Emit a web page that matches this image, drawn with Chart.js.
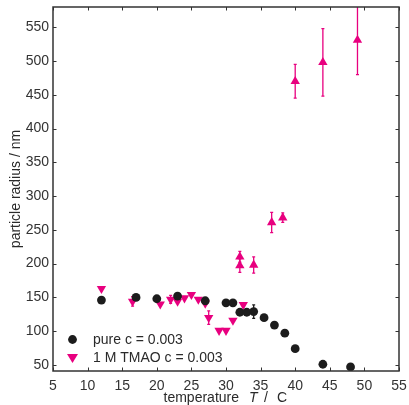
<!DOCTYPE html>
<html>
<head>
<meta charset="utf-8">
<script src="https://cdn.jsdelivr.net/npm/chart.js@4"></script>
<style>
  html, body { margin: 0; padding: 0; background: #fff; }
</style>
</head>
<body>
<canvas id="chart" width="409" height="405"></canvas>
<script>
// pure, c = 0.003
const pureT = [12, 17, 20, 23, 27, 30, 31, 32, 33, 34, 35.5, 37, 38.5, 40, 44, 48];
const pureR = [146, 150, 148, 152, 145, 142, 142, 128, 128, 129, 120, 109, 97, 74, 51, 47];
const pureErr = [0, 0, 0, 0, 0, 0, 0, 0, 0, 10, 0, 0, 0, 0, 0, 0];

// 1 M TMAO, below the transition (downward triangles)
const tmaoLowT = [12, 16.5, 20.5, 22, 23, 24, 25, 26, 27, 27.5, 29, 30, 31, 32.5];
const tmaoLowR = [163, 144, 140, 147, 144, 149, 154, 147, 141, 120, 101, 101, 116, 139];
const tmaoLowErr = [0, 7, 0, 6, 0, 0, 3, 0, 0, 10, 0, 0, 0, 0];

// 1 M TMAO, above the transition (upward triangles)
const tmaoHighT = [32, 32, 34, 36.6, 38.2, 40, 44, 49];
const tmaoHighR = [210, 197, 198, 261, 268, 470, 498, 531];
const tmaoHighErr = [8, 10, 12, 15, 7, 25, 50, 51];

const xTicks = [5, 10, 15, 20, 25, 30, 35, 40, 45, 50, 55];
const yTicks = [50, 100, 150, 200, 250, 300, 350, 400, 450, 500, 550];

const PINK = '#e8007f';
const BLACK = '#1c1c1c';
const AXIS = '#333333';
const FONT = '"Liberation Sans", Arial, sans-serif';

function toXY(xs, ys) {
  return xs.map((x, i) => ({x: x, y: ys[i]}));
}

// vertical error bars, drawn under the markers
const errorBars = {
  id: 'errorBars',
  beforeDatasetsDraw(chart) {
    const ctx = chart.ctx;
    const xs = chart.scales.x, ys = chart.scales.y;
    const area = chart.chartArea;
    ctx.save();
    ctx.beginPath();
    ctx.rect(area.left, area.top, area.right - area.left, area.bottom - area.top);
    ctx.clip();
    chart.data.datasets.forEach(ds => {
      if (!ds.errors) return;
      ctx.strokeStyle = ds.borderColor;
      ctx.lineWidth = 1.3;
      ds.data.forEach((p, i) => {
        const e = ds.errors[i];
        if (!e) return;
        const px = xs.getPixelForValue(p.x);
        const y1 = ys.getPixelForValue(p.y - e);
        const y2 = ys.getPixelForValue(p.y + e);
        ctx.beginPath();
        ctx.moveTo(px, y1); ctx.lineTo(px, y2);
        ctx.moveTo(px - 1.5, y1); ctx.lineTo(px + 1.5, y1);
        ctx.moveTo(px - 1.5, y2); ctx.lineTo(px + 1.5, y2);
        ctx.stroke();
      });
    });
    ctx.restore();
  }
};

// box, inward ticks, legend and axis titles
const frame = {
  id: 'frame',
  afterDraw(chart) {
    const ctx = chart.ctx;
    const a = chart.chartArea;
    const xs = chart.scales.x, ys = chart.scales.y;
    const tl = 3.5;
    ctx.save();
    ctx.strokeStyle = AXIS;
    ctx.lineWidth = 1;
    ctx.beginPath();
    xTicks.forEach(v => {
      const px = Math.round(xs.getPixelForValue(v)) + 0.5;
      ctx.moveTo(px, a.bottom); ctx.lineTo(px, a.bottom - tl);
      ctx.moveTo(px, a.top); ctx.lineTo(px, a.top + tl);
    });
    yTicks.forEach(v => {
      const py = Math.round(ys.getPixelForValue(v)) + 0.5;
      ctx.moveTo(a.left, py); ctx.lineTo(a.left + tl, py);
      ctx.moveTo(a.right, py); ctx.lineTo(a.right - tl, py);
    });
    ctx.stroke();
    ctx.lineWidth = 1.5;
    ctx.strokeRect(a.left, a.top, a.right - a.left, a.bottom - a.top);

    // legend
    ctx.font = '14px ' + FONT;
    ctx.fillStyle = BLACK;
    ctx.textBaseline = 'middle';
    ctx.textAlign = 'left';
    ctx.beginPath();
    ctx.arc(72.5, 339.5, 4.4, 0, Math.PI * 2);
    ctx.fill();
    ctx.fillStyle = '#2a2a2a';
    ctx.fillText('pure c = 0.003', 93, 340);
    ctx.fillStyle = PINK;
    ctx.beginPath();
    ctx.moveTo(67, 354); ctx.lineTo(78, 354); ctx.lineTo(72.5, 363);
    ctx.closePath();
    ctx.fill();
    ctx.fillStyle = '#2a2a2a';
    ctx.fillText('1 M TMAO c = 0.003', 93, 358);

    // x title
    ctx.textBaseline = 'alphabetic';
    const ty = 402;
    const w = ctx.measureText('temperature').width;
    ctx.fillText('temperature', 239 - w, ty);
    ctx.font = 'italic 14px ' + FONT;
    ctx.fillText('T', 249, ty);
    ctx.font = '14px ' + FONT;
    ctx.fillText('/', 264, ty);
    ctx.fillText('C', 277, ty);

    // y title
    ctx.translate(16, (a.top + a.bottom) / 2);
    ctx.rotate(-Math.PI / 2);
    ctx.textAlign = 'center';
    ctx.textBaseline = 'middle';
    ctx.fillText('particle radius / nm', 0, 0);
    ctx.restore();
  }
};

new Chart(document.getElementById('chart'), {
  type: 'scatter',
  data: {
    datasets: [
      {
        label: 'pure c = 0.003',
        data: toXY(pureT, pureR),
        errors: pureErr,
        pointStyle: 'circle',
        pointRadius: 4.4,
        backgroundColor: BLACK,
        borderColor: BLACK,
        borderWidth: 0
      },
      {
        label: '1 M TMAO c = 0.003',
        data: toXY(tmaoLowT, tmaoLowR),
        errors: tmaoLowErr,
        pointStyle: 'triangle',
        rotation: 180,
        pointRadius: 5.4,
        backgroundColor: PINK,
        borderColor: PINK,
        borderWidth: 0
      },
      {
        label: '1 M TMAO c = 0.003 (high T)',
        data: toXY(tmaoHighT, tmaoHighR),
        errors: tmaoHighErr,
        pointStyle: 'triangle',
        pointRadius: 5.4,
        backgroundColor: PINK,
        borderColor: PINK,
        borderWidth: 0
      }
    ]
  },
  options: {
    responsive: false,
    animation: false,
    devicePixelRatio: 1,
    layout: { padding: { top: 7, right: 10, left: 0, bottom: 0 } },
    plugins: {
      legend: { display: false },
      tooltip: { enabled: false }
    },
    scales: {
      x: {
        type: 'linear',
        min: 5,
        max: 55,
        afterFit: s => { s.height = 34; s.paddingLeft = 0; s.paddingRight = 0; },
        afterBuildTicks: s => { s.ticks = xTicks.map(v => ({value: v})); },
        grid: { display: false, drawTicks: false },
        border: { display: false },
        ticks: { color: AXIS, font: { family: FONT, size: 14 }, padding: 7, maxRotation: 0 }
      },
      y: {
        type: 'linear',
        min: 41,
        max: 580,
        afterFit: s => { s.width = 53; s.paddingTop = 0; s.paddingBottom = 0; },
        afterBuildTicks: s => { s.ticks = yTicks.map(v => ({value: v})); },
        grid: { display: false, drawTicks: false },
        border: { display: false },
        ticks: { color: AXIS, font: { family: FONT, size: 14 }, padding: 4 }
      }
    }
  },
  plugins: [errorBars, frame]
});
</script>
</body>
</html>
